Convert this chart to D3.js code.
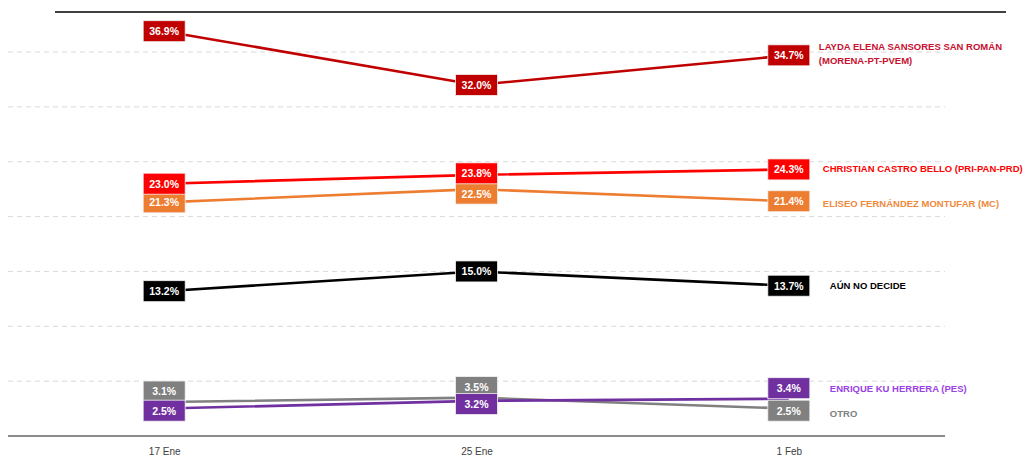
<!DOCTYPE html>
<html><head><meta charset="utf-8">
<script src="https://cdn.jsdelivr.net/npm/d3@7"></script>
<style>
html,body{margin:0;padding:0;background:#fff;}
svg{display:block;font-family:"Liberation Sans",Arial,sans-serif;}
</style></head>
<body>
<svg id="c" width="1024" height="458"></svg>
<script>
// ---- data ----
const dates = ["17 Ene", "25 Ene", "1 Feb"];
const seriesNames = ["LAYDA ELENA SANSORES SAN ROMÁN|(MORENA-PT-PVEM)", "CHRISTIAN CASTRO BELLO (PRI-PAN-PRD)", "ELISEO FERNÁNDEZ MONTUFAR (MC)", "AÚN NO DECIDE", "OTRO", "ENRIQUE KU HERRERA (PES)"];
const layda = [36.9, 32.0, 34.7];
const christian = [23.0, 23.8, 24.3];
const eliseo = [21.3, 22.5, 21.4];
const noDecide = [13.2, 15.0, 13.7];
const otro = [3.1, 3.5, 2.5];
const enrique = [2.5, 3.2, 3.4];
const gridTicks = [5, 10, 15, 20, 25, 30, 35];

// ---- styles (kept separate from data) ----
const styles = [
  {line:"#C00000", text:"#C8102E", lblDy:[-9, 5]},
  {line:"#FF0000", text:"#FF0000", lblDy:[-1]},
  {line:"#ED7D31", text:"#EE8A3C", lblDy:[2]},
  {line:"#000000", text:"#000000", lblDy:[0]},
  {line:"#808080", text:"#808080", lblDy:[5]},
  {line:"#7030A0", text:"#9B3FE6", lblDy:[-10]}
];
// box placement: 0 centered, -1 above (box bottom at point), +1 below
const boxPlace = [
  [0,0,0],[0,-0.15,0],[0,0.42,0],[0,0,0],
  [-1,-1,0.2],
  [0.2,0.3,-1]
];
const seriesValues = [layda, christian, eliseo, noDecide, otro, enrique];
const drawOrder = [4, 5, 3, 2, 1, 0];

const svg = d3.select("#c");
const pLeft = 8, pRight = 945, pTop = 12, pBottom = 436;
const x = d3.scalePoint().domain(dates).range([pLeft, pRight]).padding(0.5);
const y = d3.scaleLinear().domain([0, 38.65]).range([pBottom, pTop]);

// gridlines
svg.append("g").selectAll("line").data(gridTicks).join("line")
  .attr("x1", pLeft).attr("x2", pRight)
  .attr("y1", d => y(d)).attr("y2", d => y(d))
  .attr("stroke", "#d9d9d9").attr("stroke-width", 1)
  .attr("stroke-dasharray", "5,4");

// top frame line
svg.append("line").attr("x1", 55).attr("x2", 1006)
  .attr("y1", y.range()[1]).attr("y2", y.range()[1])
  .attr("stroke", "#404040").attr("stroke-width", 2.2);

// bottom axis
const xAxis = d3.axisBottom(x).tickSize(0).tickPadding(12);
const gx = svg.append("g").attr("transform", `translate(0,${pBottom})`).call(xAxis);
gx.select(".domain").attr("stroke", "#8c8c8c").attr("stroke-width", 2)
  .attr("d", `M${pLeft},0H${pRight}`);
gx.selectAll("text").attr("font-size", 10).attr("fill", "#404040")
  .attr("font-family", "'Liberation Sans',Arial,sans-serif");

// lines
const line = d3.line().x((d, i) => x(dates[i])).y(d => y(d));
drawOrder.forEach(si => {
  svg.append("path").datum(seriesValues[si])
    .attr("d", line).attr("fill", "none")
    .attr("stroke", styles[si].line).attr("stroke-width", 2.6);
});

// value boxes
const bw = 42, bh = 21;
drawOrder.forEach(si => {
  const g = svg.append("g");
  seriesValues[si].forEach((v, i) => {
    const cx = x(dates[i]);
    const cy = y(v) + boxPlace[si][i] * bh / 2;
    g.append("rect").attr("x", cx - bw/2).attr("y", cy - bh/2)
      .attr("width", bw).attr("height", bh)
      .attr("fill", styles[si].line).attr("stroke", "#f2f2f2").attr("stroke-width", 0.8);
    g.append("text").attr("x", cx).attr("y", cy)
      .attr("text-anchor", "middle").attr("dominant-baseline", "central")
      .attr("fill", "#fff").attr("font-size", 10.5).attr("font-weight", "bold")
      .text(v.toFixed(1) + "%");
  });
});

// series labels
const lx = x(dates[2]) + 34;
seriesNames.forEach((name, si) => {
  const vals = seriesValues[si];
  const base = y(vals[vals.length - 1]);
  const parts = name.split("|");
  parts.forEach((p, k) => {
    svg.append("text").attr("x", lx + (si === 3 || si >= 4 ? 7 : 0) - (si === 0 ? 4 : 0))
      .attr("y", base + styles[si].lblDy[k])
      .attr("dominant-baseline", "central")
      .attr("fill", styles[si].text).attr("font-size", 9.5).attr("font-weight", "bold")
      .text(p);
  });
});
</script>
</body></html>
